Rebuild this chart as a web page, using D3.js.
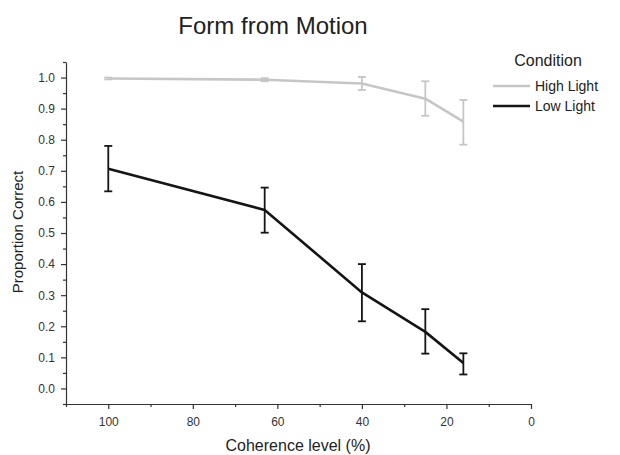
<!DOCTYPE html>
<html>
<head>
<meta charset="utf-8">
<script src="https://cdn.jsdelivr.net/npm/d3@7"></script>
<style>
  body { margin: 0; background: #fff; }
  svg text { font-family: "Liberation Sans", Arial, sans-serif; fill: #222; }
  .axis path, .axis line { stroke: #333; stroke-width: 1.2; }
  .axis text { font-size: 12px; fill: #333; }
</style>
</head>
<body>
<svg id="chart" width="620" height="455"></svg>
<script>
// coherence levels (%)
const coherence = [100, 63, 40, 25, 16];

// proportion correct, mean and error bar ends
const highMean = [0.997, 0.993, 0.981, 0.932, 0.858];
const highLo   = [0.994, 0.988, 0.960, 0.877, 0.784];
const highHi   = [1.000, 0.998, 1.002, 0.988, 0.928];

const lowMean  = [0.707, 0.574, 0.309, 0.182, 0.082];
const lowLo    = [0.634, 0.501, 0.216, 0.112, 0.045];
const lowHi    = [0.780, 0.646, 0.400, 0.255, 0.113];

const xTicks = [100, 80, 60, 40, 20, 0];
const yTicks = [0, 0.1, 0.2, 0.3, 0.4, 0.5, 0.6, 0.7, 0.8, 0.9, 1.0];

const series = [
    { name: "High Light", color: "#c6c6c6", mean: highMean, lo: highLo, hi: highHi },
    { name: "Low Light",  color: "#151515", mean: lowMean,  lo: lowLo,  hi: lowHi }
];

const svg = d3.select("#chart");
const m = { top: 62, right: 89, bottom: 51, left: 66 };
const W = 620 - m.left - m.right;
const H = 455 - m.top - m.bottom;
const g = svg.append("g").attr("transform", `translate(${m.left},${m.top})`);

const x = d3.scaleLinear().domain([110, 0]).range([0, W]);
const y = d3.scaleLinear().domain([-0.05, 1.05]).range([H, 0]);

// minor ticks
const xMinor = d3.range(0, 111, 10).filter(v => v % 20 !== 0);
const yMinor = d3.range(-0.05, 1.06, 0.1).map(v => +v.toFixed(2));

g.append("g").attr("class", "axis")
    .attr("transform", `translate(0,${H})`)
    .call(d3.axisBottom(x).tickValues(xMinor).tickSize(3).tickFormat(""))
    .call(a => a.select(".domain").remove());
g.append("g").attr("class", "axis")
    .attr("transform", `translate(0,${H})`)
    .call(d3.axisBottom(x).tickValues(xTicks).tickSize(5).tickPadding(8).tickSizeOuter(0));

g.append("g").attr("class", "axis")
    .call(d3.axisLeft(y).tickValues(yMinor).tickSize(3).tickFormat(""))
    .call(a => a.select(".domain").remove());
g.append("g").attr("class", "axis")
    .call(d3.axisLeft(y).tickValues(yTicks).tickSize(5).tickPadding(6).tickSizeOuter(0)
        .tickFormat(d3.format(".1f")));

// lines + error bars
const line = d3.line().x((d, i) => x(coherence[i])).y(d => y(d));
const cap = 4;

series.forEach(s => {
    const sg = g.append("g");
    sg.append("path").datum(s.mean)
        .attr("d", line)
        .attr("fill", "none")
        .attr("stroke", s.color)
        .attr("stroke-width", 2.6)
        .attr("stroke-linejoin", "round");
    const eb = sg.selectAll("g.eb").data(coherence).join("g").attr("class", "eb")
        .attr("stroke", s.color).attr("stroke-width", 1.8);
    eb.append("line")
        .attr("x1", d => x(d)).attr("x2", d => x(d))
        .attr("y1", (d, i) => y(s.lo[i])).attr("y2", (d, i) => y(s.hi[i]));
    eb.append("line")
        .attr("x1", d => x(d) - cap).attr("x2", d => x(d) + cap)
        .attr("y1", (d, i) => y(s.hi[i])).attr("y2", (d, i) => y(s.hi[i]));
    eb.append("line")
        .attr("x1", d => x(d) - cap).attr("x2", d => x(d) + cap)
        .attr("y1", (d, i) => y(s.lo[i])).attr("y2", (d, i) => y(s.lo[i]));
});

// title and axis labels
svg.append("text").attr("x", 273).attr("y", 34)
    .attr("text-anchor", "middle").style("font-size", "24px").text("Form from Motion");
svg.append("text").attr("x", 298).attr("y", 451)
    .attr("text-anchor", "middle").style("font-size", "16px").text("Coherence level (%)");
svg.append("text")
    .attr("transform", "translate(23,232) rotate(-90)")
    .attr("text-anchor", "middle").style("font-size", "15px").text("Proportion Correct");

// legend
const lg = svg.append("g").attr("transform", "translate(493,0)");
lg.append("text").attr("x", 55).attr("y", 66).attr("text-anchor", "middle")
    .style("font-size", "16px").text("Condition");
lg.selectAll("g.item").data(series).join("g").attr("class", "item")
    .attr("transform", (d, i) => `translate(0,${86 + i * 20})`)
    .each(function(d) {
        const it = d3.select(this);
        it.append("line").attr("x1", 0).attr("x2", 37)
            .attr("stroke", d.color).attr("stroke-width", 2.6);
        it.append("text").attr("x", 42).attr("y", 5)
            .style("font-size", "14px").text(d.name);
    });
</script>
</body>
</html>
